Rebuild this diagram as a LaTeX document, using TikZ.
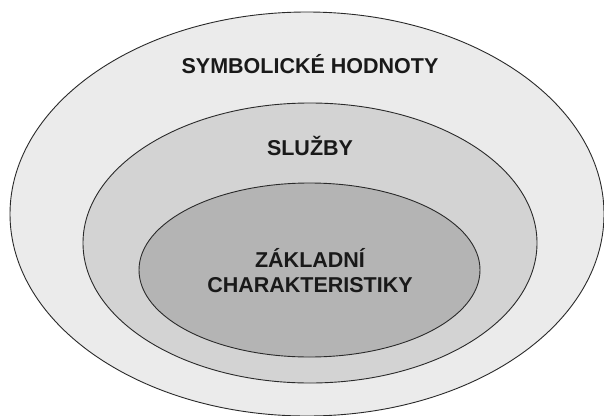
\documentclass[tikz,border=0pt]{standalone}
\usepackage{fontspec}
\setmainfont{Liberation Sans}
\usetikzlibrary{shapes.geometric}
\definecolor{outerfill}{HTML}{EBEBEB}
\definecolor{midfill}{HTML}{D3D3D3}
\definecolor{innerfill}{HTML}{B4B4B4}
\definecolor{edgecol}{HTML}{2A2A2A}
\tikzset{
  ring/.style={draw=edgecol, line width=0.9pt},
  lbl/.style={font=\fontsize{21.5}{25}\selectfont\bfseries, text=black!90, align=center, inner sep=0pt}
}
\begin{document}
\begin{tikzpicture}[x=1pt,y=-1pt]
\useasboundingbox (0,0) rectangle (604,415);
\fill[white] (0,0) rectangle (604,415);
\begin{scope}
\clip (0,0) rectangle (604,415);
\filldraw[ring, fill=outerfill] (307,214) ellipse [x radius=297, y radius=202];
\end{scope}
\filldraw[ring, fill=midfill] (310,243) ellipse [x radius=227, y radius=140];
\filldraw[ring, fill=innerfill] (309.5,270) ellipse [x radius=170.5, y radius=87];
\node[lbl] (sym) at (310,64.5) {SYMBOLICKÉ HODNOTY};
\node[lbl] (sluz) at (310,146) {SLUŽBY};
\node[lbl, anchor=base] (zak) at (310,267) {ZÁKLADNÍ};
\node[lbl, anchor=base] (char) at (310,292) {CHARAKTERISTIKY};
\end{tikzpicture}
\end{document}
